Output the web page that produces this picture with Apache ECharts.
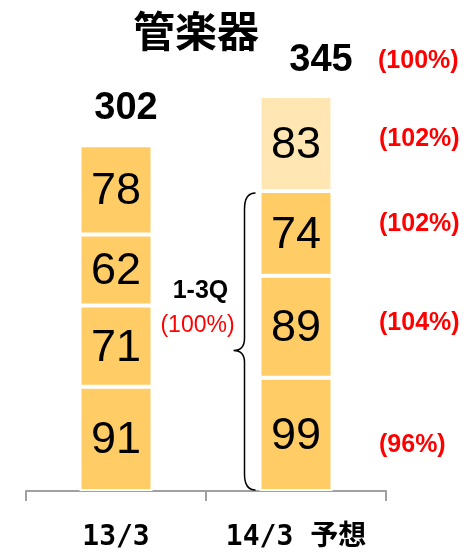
<!DOCTYPE html>
<html>
<head>
<meta charset="utf-8">
<script src="https://cdn.jsdelivr.net/npm/echarts@6/dist/echarts.min.js"></script>
<style>
html,body{margin:0;padding:0;background:#fff;}
#chart{width:466px;height:552px;}
</style>
</head>
<body>
<div id="chart"></div>
<script>
// ---- data ----
const categories = ['13/3', '14/3 予想'];
const q1 = [91, 99];
const q2 = [71, 89];
const q3 = [62, 74];
const q4 = [78, 83];
const totals = [302, 345];
const growthQ = ['(96%)', '(104%)', '(102%)', '(102%)']; // 14/3 vs 13/3, Q1..Q4
const growthTotal = '(100%)';
const growth13Q = '(100%)';
const title = '管楽器';

// ---- styles ----
const BAR = '#FFCC66';
const BAR_LIGHT = '#FFE6B3';
const NUM_FONT = 'Liberation Sans, Arial, sans-serif';

const chart = echarts.init(document.getElementById('chart'), null, {renderer: 'canvas'});

function barSeries(name, vals, lightLast) {
  return {
    name: name,
    type: 'bar',
    stack: 'total',
    barWidth: 73,
    data: vals.map((v, i) => ({
      value: v,
      itemStyle: {color: (lightLast && i === 1) ? BAR_LIGHT : BAR}
    })),
    itemStyle: {borderColor: '#ffffff', borderWidth: 2},
    label: {
      show: true, position: 'inside', color: '#000',
      fontSize: 45, fontFamily: NUM_FONT, fontWeight: 'normal',
      textBorderWidth: 0, offset: [0, 2]
    },
    emphasis: {disabled: true},
    animation: false
  };
}

// cumulative tops for 14/3 for label anchors
const segs2 = [q1[1], q2[1], q3[1], q4[1]];
const mids2 = [];
let acc = 0;
segs2.forEach(v => { mids2.push(acc + v / 2); acc += v; });
const sum13Q = q1[1] + q2[1] + q3[1];

const totalOffsets = [[10, -37], [25, -35]];
const pctOffsets = [[83, 11], [83, -4], [83, -9], [83, -4]];

const plainLabel = {
  show: true, position: 'inside', textBorderWidth: 0, textBorderColor: 'transparent',
  textShadowBlur: 0, opacity: 1
};

const option = {
  animation: false,
  title: {
    text: title, left: 128, top: 5,
    textStyle: {fontSize: 42, fontWeight: 'bold', color: '#000', fontFamily: 'Noto Sans CJK JP'}
  },
  grid: {left: 26, right: 80, top: 33, bottom: 59, containLabel: false},
  xAxis: {
    type: 'category', data: categories,
    axisLine: {lineStyle: {color: '#A0A0A0', width: 2}},
    axisTick: {show: true, length: 10, lineStyle: {color: '#A0A0A0', width: 2}},
    axisLabel: {
      interval: 0, hideOverlap: false,
      color: '#000', fontSize: 28, fontWeight: 'bold', margin: 33,
      fontFamily: '"DejaVu Sans Mono", "Noto Sans CJK JP", monospace'
    }
  },
  yAxis: {type: 'value', min: 0, max: 400, show: false, splitLine: {show: false}},
  series: [
    barSeries('Q1', q1, false),
    barSeries('Q2', q2, false),
    barSeries('Q3', q3, false),
    barSeries('Q4', q4, true),
    {
      name: 'total', type: 'scatter', symbolSize: 0,
      itemStyle: {color: '#ffffff', opacity: 1},
      data: totals.map((t, i) => ({
        value: [i, t],
        label: {offset: totalOffsets[i]}
      })),
      label: Object.assign({}, plainLabel, {
        formatter: p => String(p.value[1]),
        color: '#000000', fontSize: 38, fontWeight: 'bold', fontFamily: NUM_FONT
      }),
      emphasis: {disabled: true}, z: 5
    },
    {
      name: 'pct', type: 'scatter', symbolSize: 0,
      itemStyle: {color: '#ffffff', opacity: 1},
      data: mids2.map((m, i) => ({
        value: [1, m],
        label: {offset: pctOffsets[i], formatter: growthQ[i]}
      })).concat([{
        value: [1, totals[1]],
        label: {offset: [82, -35], formatter: growthTotal}
      }]),
      label: Object.assign({}, plainLabel, {
        align: 'left',
        color: '#FF0000', fontSize: 25, fontWeight: 'bold', fontFamily: NUM_FONT
      }),
      emphasis: {disabled: true}, z: 5
    },
    {
      name: 'brace', type: 'custom',
      data: [[1, sum13Q]],
      renderItem: function (params, api) {
        const top = api.coord([api.value(0), api.value(1)]);
        const bot = api.coord([api.value(0), 0]);
        const bw = 73;
        const xr = top[0] - bw / 2 - 4;
        const xm = xr - 11;
        const xt = xr - 22;
        const y0 = top[1] + 2;
        const y1 = bot[1] - 1;
        const ym = y0 + (y1 - y0) * 0.53;
        const d = 'M' + xr + ' ' + y0 +
          ' Q' + xm + ' ' + y0 + ' ' + xm + ' ' + (y0 + 16) +
          ' L' + xm + ' ' + (ym - 12) +
          ' Q' + xm + ' ' + ym + ' ' + xt + ' ' + ym +
          ' Q' + xm + ' ' + ym + ' ' + xm + ' ' + (ym + 12) +
          ' L' + xm + ' ' + (y1 - 16) +
          ' Q' + xm + ' ' + y1 + ' ' + xr + ' ' + y1;
        return {
          type: 'group',
          children: [
            {type: 'path', shape: {pathData: d}, style: {fill: 'none', stroke: '#000', lineWidth: 1.5}},
            {type: 'text', style: {text: '1-3Q', x: xt - 33, y: ym - 59, fill: '#000',
              fontSize: 25, fontWeight: 'bold', fontFamily: NUM_FONT, align: 'center', verticalAlign: 'middle'}},
            {type: 'text', style: {text: growth13Q, x: xt - 36, y: ym - 25, fill: '#FF0000',
              fontSize: 23, fontWeight: 'normal', fontFamily: NUM_FONT, align: 'center', verticalAlign: 'middle'}}
          ]
        };
      },
      z: 6
    }
  ]
};
chart.setOption(option);
</script>
</body>
</html>
